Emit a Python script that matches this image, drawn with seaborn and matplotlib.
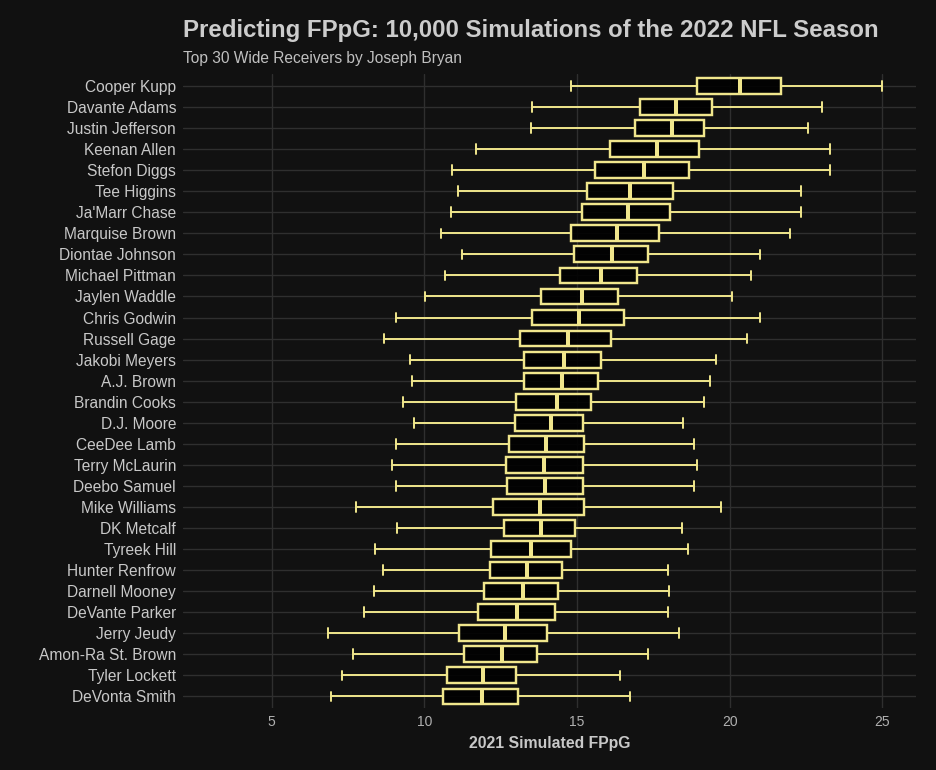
import pandas as pd
import matplotlib
matplotlib.use("Agg")
import matplotlib.pyplot as plt
import seaborn as sns

# Box stats (whisker low, Q1, median, Q3, whisker high)
players = [
    "Cooper Kupp", "Davante Adams", "Justin Jefferson", "Keenan Allen", "Stefon Diggs",
    "Tee Higgins", "Ja'Marr Chase", "Marquise Brown", "Diontae Johnson", "Michael Pittman",
    "Jaylen Waddle", "Chris Godwin", "Russell Gage", "Jakobi Meyers", "A.J. Brown",
    "Brandin Cooks", "D.J. Moore", "CeeDee Lamb", "Terry McLaurin", "Deebo Samuel",
    "Mike Williams", "DK Metcalf", "Tyreek Hill", "Hunter Renfrow", "Darnell Mooney",
    "DeVante Parker", "Jerry Jeudy", "Amon-Ra St. Brown", "Tyler Lockett", "DeVonta Smith",
]
whisk_low = [14.80, 13.53, 13.50, 11.70, 10.92, 11.11, 10.88, 10.56, 11.24, 10.69,
             10.03, 9.08, 8.69, 9.54, 9.61, 9.31, 9.67, 9.08, 8.95, 9.08,
             7.78, 9.12, 8.40, 8.66, 8.37, 8.01, 6.86, 7.68, 7.32, 6.96]
q1 = [18.94, 17.06, 16.89, 16.07, 15.58, 15.32, 15.15, 14.79, 14.89, 14.43,
      13.81, 13.52, 13.13, 13.26, 13.26, 13.00, 12.96, 12.77, 12.67, 12.70,
      12.25, 12.60, 12.20, 12.15, 11.94, 11.75, 11.13, 11.29, 10.73, 10.60]
median = [20.33, 18.24, 18.10, 17.61, 17.19, 16.73, 16.67, 16.30, 16.14, 15.78,
          15.16, 15.07, 14.71, 14.58, 14.51, 14.33, 14.16, 13.98, 13.92, 13.95,
          13.79, 13.82, 13.50, 13.37, 13.24, 13.04, 12.65, 12.55, 11.93, 11.90]
q3 = [21.69, 19.42, 19.17, 18.98, 18.68, 18.13, 18.06, 17.67, 17.31, 16.95,
      16.33, 16.53, 16.10, 15.77, 15.68, 15.45, 15.20, 15.22, 15.20, 15.20,
      15.22, 14.92, 14.80, 14.51, 14.37, 14.28, 14.02, 13.69, 13.01, 13.07]
whisk_high = [25.00, 23.01, 22.58, 23.30, 23.30, 22.32, 22.35, 21.96, 20.98, 20.69,
              20.07, 20.98, 20.56, 19.54, 19.35, 19.15, 18.46, 18.82, 18.92, 18.82,
              19.71, 18.43, 18.63, 17.97, 18.01, 17.97, 18.33, 17.32, 16.41, 16.73]

# five points per player -> seaborn quartiles land exactly on the read values
rows = []
for i, p in enumerate(players):
    for v in (whisk_low[i], q1[i], median[i], q3[i], whisk_high[i]):
        rows.append({"player": p, "fppg": v})
df = pd.DataFrame(rows)

BG = "#111111"
BOX = "#f0e68c"

sns.set_style("dark")
plt.rcParams["font.family"] = ["Liberation Sans", "DejaVu Sans"]

fig = plt.figure(figsize=(9.36, 7.70), dpi=100, facecolor=BG)
ax = fig.add_axes([183 / 936, 1 - 708 / 770, (916 - 183) / 936, (708 - 74) / 770])
ax.set_facecolor(BG)

sns.boxplot(
    data=df, x="fppg", y="player", order=players, ax=ax,
    whis=(0, 100), showfliers=False, width=0.75,
    linecolor=BOX, linewidth=1.4, capwidths=0.46,
    boxprops=dict(facecolor=(0, 0, 0, 0.88), edgecolor=BOX, linewidth=1.75, zorder=3),
    medianprops=dict(color=BOX, linewidth=2.9, zorder=4, solid_capstyle="butt"),
    whiskerprops=dict(color=BOX, linewidth=1.4, zorder=2),
    capprops=dict(color=BOX, linewidth=1.4, zorder=2),
)

ax.set_xlim(2.1, 26.1)
ax.set_ylim(len(players) - 0.45, -0.57)
ax.set_xticks([5, 10, 15, 20, 25])
ax.grid(True, color="#2f2f2f", linewidth=1.0)
ax.set_axisbelow(True)
for s in ax.spines.values():
    s.set_visible(False)
ax.tick_params(axis="both", length=0)
ax.tick_params(axis="y", labelsize=11.2, labelcolor="#c8c8c8", pad=5)
ax.tick_params(axis="x", labelsize=10, labelcolor="#b0b0b0", pad=5)

ax.set_ylabel("")
ax.set_xlabel("2021 Simulated FPpG", fontsize=11.3, fontweight="bold", color="#c8c8c8", labelpad=5)

fig.text(183 / 936, 1 - 31 / 770, "Predicting FPpG: 10,000 Simulations of the 2022 NFL Season",
         fontsize=17.3, fontweight="bold", color="#cccccc", va="center", ha="left")
fig.text(183 / 936, 1 - 59 / 770, "Top 30 Wide Receivers by Joseph Bryan",
         fontsize=11.2, color="#c0c0c0", va="center", ha="left")

fig.savefig("out.png", dpi=100, facecolor=BG)
